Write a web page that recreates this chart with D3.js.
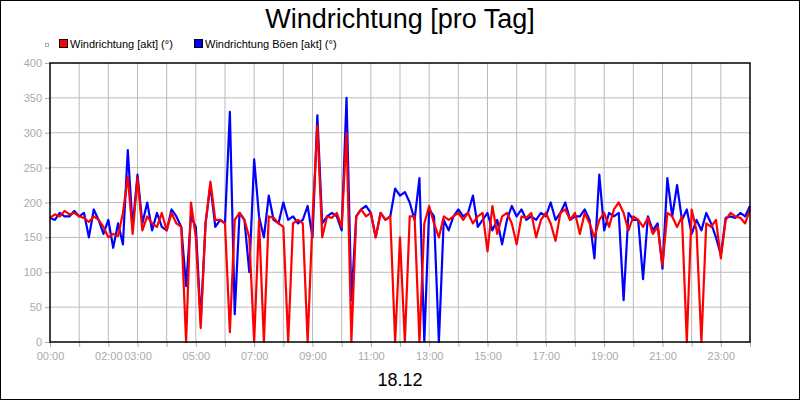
<!DOCTYPE html>
<html><head><meta charset="utf-8">
<script src="https://cdn.jsdelivr.net/npm/d3@7"></script>
<style>body{margin:0;background:#fff}svg{font-family:"Liberation Sans",Arial,sans-serif}</style>
</head><body><svg id="c" width="800" height="400"></svg>
<script>
const title = "Windrichtung [pro Tag]";
const dateLabel = "18.12";
const seriesNames = ["Windrichtung [akt] (°)", "Windrichtung Böen [akt] (°)"];
const seriesColors = ["#ff0000", "#0000ff"];
const yTicks = [0,50,100,150,200,250,300,350,400];
const xTickHours = [0,2,3,5,7,9,11,13,15,17,19,21,23];
// 10-minute samples, 00:00 .. 24:00
const windAkt = [178,183,180,188,183,185,180,178,172,180,175,165,
150,155,152,185,237,155,235,160,180,170,165,185,
160,185,170,165,0,200,150,20,170,230,175,175,
170,14,175,185,175,150,0,175,0,180,178,170,
165,0,170,175,170,0,175,310,150,180,178,185,
165,300,0,180,190,180,185,150,185,175,180,0,
150,0,180,180,0,170,195,170,150,180,175,180,
185,175,185,170,180,185,130,195,155,180,185,170,
140,180,178,185,150,175,185,170,145,185,190,175,
185,155,185,170,150,175,185,165,190,200,185,160,
180,175,165,178,155,165,110,185,180,165,180,0,
190,160,0,170,165,175,120,175,185,180,178,170,190];
const windBoeen = [178,175,185,180,180,188,180,185,150,190,175,155,
175,135,170,140,275,165,240,170,200,160,185,165,
160,190,180,165,80,180,165,30,170,225,165,175,
170,330,40,185,175,100,262,180,150,210,175,170,
200,175,180,170,175,195,150,325,170,180,185,180,
160,350,60,180,190,195,185,150,185,175,180,220,
210,215,200,175,235,0,190,180,0,175,160,180,
190,180,185,210,165,175,185,160,175,140,175,195,
180,190,175,180,175,185,180,200,175,185,200,175,
180,180,190,175,120,240,160,185,180,185,60,185,
175,175,90,180,160,170,105,235,180,225,175,190,
155,175,160,185,170,150,125,178,180,178,185,180,195];

const svg = d3.select("#c");
const L=50,R=750,T=63,B=342;
svg.append("rect").attr("x",0.5).attr("y",0.5).attr("width",799).attr("height",399).attr("fill","#fff").attr("stroke","#000");
const x = d3.scaleLinear().domain([0,24]).range([L,R]);
const y = d3.scaleLinear().domain([0,400]).range([B,T]);
const g = svg.append("g");
// grid
g.selectAll(".vg").data(d3.range(1,24)).join("line").attr("x1",d=>x(d)).attr("x2",d=>x(d)).attr("y1",T).attr("y2",B).attr("stroke","#bbb");
g.selectAll(".hg").data(yTicks.slice(1,-1)).join("line").attr("x1",L).attr("x2",R).attr("y1",d=>y(d)).attr("y2",d=>y(d)).attr("stroke","#bbb");
// axes
const ya = svg.append("g").attr("transform",`translate(${L},0)`).call(d3.axisLeft(y).tickValues(yTicks).tickSize(5).tickSizeOuter(0));
ya.select(".domain").remove();
ya.selectAll("line").attr("stroke","#aaa");
ya.selectAll("text").attr("fill","#aaa").attr("font-size",11).attr("font-family","Liberation Sans, Arial");
const xa = svg.append("g").attr("transform",`translate(0,${B})`).call(d3.axisBottom(x).tickValues(d3.range(0,25)).tickSize(5).tickSizeOuter(0).tickFormat(d=>xTickHours.includes(d)?String(d).padStart(2,"0")+":00":""));
xa.select(".domain").remove();
xa.selectAll("line").attr("stroke","#aaa");
xa.selectAll("text").attr("fill","#aaa").attr("font-size",11).attr("font-family","Liberation Sans, Arial").attr("dy","0.9em");
// lines
const line = d3.line().x((d,i)=>x(i/6)).y(d=>y(d));
svg.append("path").datum(windBoeen).attr("d",line).attr("fill","none").attr("stroke",seriesColors[1]).attr("stroke-width",2.2).attr("stroke-linejoin","round");
svg.append("path").datum(windAkt).attr("d",line).attr("fill","none").attr("stroke",seriesColors[0]).attr("stroke-width",2.2).attr("stroke-linejoin","round");
svg.append("rect").attr("x",L).attr("y",T).attr("width",R-L).attr("height",B-T).attr("fill","none").attr("stroke","#000").attr("stroke-width",1.5);
// title
svg.append("text").attr("x",400).attr("y",28).attr("text-anchor","middle").attr("font-size",27).text(title);
svg.append("text").attr("x",400).attr("y",386).attr("text-anchor","middle").attr("font-size",18).text(dateLabel);
// legend
svg.append("rect").attr("x",45.5).attr("y",43.5).attr("width",3).attr("height",3).attr("fill","none").attr("stroke","#aaa");
const lx=[59,194];
seriesNames.forEach((n,i)=>{
  svg.append("rect").attr("x",lx[i]+0.5).attr("y",39.5).attr("width",8).attr("height",8).attr("fill",seriesColors[i]).attr("stroke","#000");
  svg.append("text").attr("x",lx[i]+11).attr("y",48).attr("font-size",11).text(n);
});
</script></body></html>
